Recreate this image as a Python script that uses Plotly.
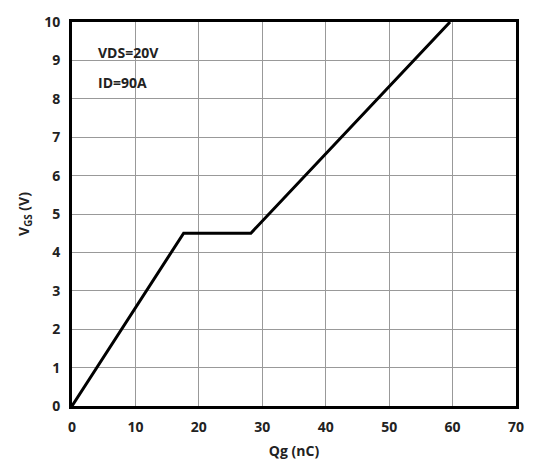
import plotly.graph_objects as go

qg = [0, 17.6, 28.2, 59.6]
vgs = [0, 4.5, 4.5, 10]
x_ticks = [0, 10, 20, 30, 40, 50, 60, 70]
y_ticks = [0, 1, 2, 3, 4, 5, 6, 7, 8, 9, 10]
notes = ["VDS=20V", "ID=90A"]

font = "Open Sans"
fig = go.Figure()
fig.add_trace(go.Scatter(x=qg, y=vgs, mode="lines",
                         line=dict(color="black", width=3), showlegend=False))

fig.update_layout(
    width=536, height=470,
    margin=dict(l=72, r=15, t=14, b=63),
    plot_bgcolor="white", paper_bgcolor="white",
    font=dict(family=font, size=14, color="#222"),
    xaxis=dict(range=[0, 70], tickvals=x_ticks, showgrid=True, gridcolor="#999",
               gridwidth=1, zeroline=False, showline=True, linecolor="black",
               linewidth=3, mirror=True, ticks="", ticklabelstandoff=6,
               tickfont=dict(family=font, size=14, weight="bold"),
               title=dict(text="<b>Qg (nC)</b>", font=dict(size=14), standoff=12)),
    yaxis=dict(range=[0, 10], tickvals=y_ticks, showgrid=True, gridcolor="#999",
               gridwidth=1, zeroline=False, showline=True, linecolor="black",
               linewidth=3, mirror=True, ticks="", ticklabelstandoff=6,
               tickfont=dict(family=font, size=14, weight="bold"),
               title=dict(text="<b>V<sub>GS</sub> (V)</b>", font=dict(size=14), standoff=12)),
)
for i, t in enumerate(notes):
    fig.add_annotation(x=0.055, y=0.92 - i * 0.077, xref="paper", yref="paper",
                       text="<b>" + t + "</b>", showarrow=False, xanchor="left",
                       yanchor="middle", font=dict(family=font, size=14, color="#222"))

fig.write_html("out.html")
